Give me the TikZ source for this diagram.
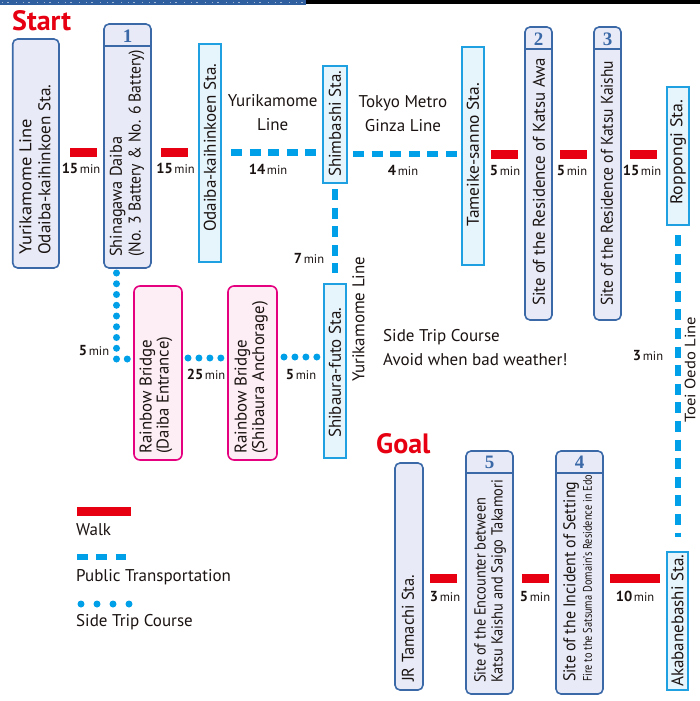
\documentclass[tikz,border=0pt]{standalone}
\usepackage{fontspec}
\setmainfont{PT Sans}
\newfontfamily\numfont{Liberation Serif}
\usepackage{graphicx}
\usetikzlibrary{calc}
\definecolor{ink}{HTML}{1A1311}
\definecolor{walkred}{HTML}{E60012}
\definecolor{ptblue}{HTML}{00A0E9}
\definecolor{navy}{HTML}{3B69A8}
\definecolor{bandblue}{HTML}{2F5F9F}
\definecolor{lav}{HTML}{E8EBF7}
\definecolor{stfill}{HTML}{E6F4FC}
\definecolor{stline}{HTML}{1FA1E1}
\definecolor{pinkline}{HTML}{E4007F}
\definecolor{pinkfill}{HTML}{FDEEF5}
\newcommand\vt[2]{\resizebox{#1pt}{\height}{#2}}
\newcommand\mkbox[6]{\node[#1, anchor=north west, minimum width={(#5)-(#3)}, minimum height={(#6)-(#4)}] (#2) at (#3,#4) {};}
\newcommand\mn[2]{{\bfseries\fontsize{14.5}{15}\selectfont #1}\,{\fontsize{12.5}{14}\selectfont #2}}
\begin{document}
\begin{tikzpicture}[x=1pt,y=-1pt,
  spot/.style={draw=navy, fill=lav, line width=1.6pt, rounded corners=5pt, inner sep=0pt, outer sep=0pt},
  station/.style={draw=stline, fill=stfill, line width=1.6pt, inner sep=0pt, outer sep=0pt},
  bridge/.style={draw=pinkline, fill=pinkfill, line width=1.6pt, rounded corners=6pt, inner sep=0pt, outer sep=0pt},
  vtext/.style={rotate=90, anchor=west, inner sep=0pt, text=ink, font=\fontsize{17}{19}\selectfont},
  htext/.style={inner sep=0pt, text=ink, font=\fontsize{17}{19}\selectfont, anchor=base},
  mins/.style={inner sep=0pt, text=ink, anchor=base},
  numtxt/.style={inner sep=0pt, text=navy, font=\numfont\bfseries\fontsize{19}{19}\selectfont},
  hdr/.style={draw=navy, line width=1.6pt},
  walk/.style={draw=walkred, line width=9pt},
  transit/.style={draw=ptblue, line width=6.7pt, dash pattern=on 11pt off 7.6pt},
  sidetrip/.style={draw=ptblue, line width=7pt, line cap=round, dash pattern=on 0pt off #1},
  sidetrip/.default=10.75pt,
  title/.style={inner sep=0pt, text=walkred, anchor=base west, font=\bfseries\fontsize{28}{29}\selectfont}
]
\useasboundingbox (0,0) rectangle (700,701);
\fill[white] (0,0) rectangle (700,701);
% top band
\fill[bandblue] (0,0) rectangle (306,5);
\fill[black] (306,0) rectangle (700,4.5);
\draw[white!55!bandblue, line width=1.6pt, dash pattern=on 1pt off 4pt on 2pt off 7pt on 1pt off 6pt] (2,2.5) -- (304,2.5);

% titles
\node[title] (start) at (12,31) {Start};
\node[title] (goal) at (376,453) {Goal};

% boxes
\mkbox{spot}{A}{12.7}{39}{59}{268}
\mkbox{spot}{B1}{104}{24}{151}{268}
\mkbox{station}{S1}{199}{44}{221}{262}
\mkbox{station, line width=2.3pt}{S2}{323}{66}{347}{183}
\mkbox{station}{S3}{462}{47}{484}{265}
\mkbox{spot}{B2}{525}{27}{552}{320}
\mkbox{spot}{B3}{594}{27}{621}{320}
\mkbox{station}{S4}{667}{87}{689}{225}
\mkbox{station}{S5}{324}{284}{346}{458}
\mkbox{bridge}{R1}{134}{286}{182}{460}
\mkbox{bridge}{R2}{228}{286}{277}{460}
\mkbox{station}{S6}{667}{552}{688}{690}
\mkbox{spot}{JR}{395}{463}{423}{690}
\mkbox{spot}{B5}{466}{451}{513}{694}
\mkbox{spot}{B4}{556}{451}{603}{694}

% header separators
\draw[hdr] ([yshift=-22pt]B1.north west) -- ([yshift=-22pt]B1.north east);
\draw[hdr] ([yshift=-22pt]B2.north west) -- ([yshift=-22pt]B2.north east);
\draw[hdr] ([yshift=-22pt]B3.north west) -- ([yshift=-22pt]B3.north east);
\draw[hdr] ([yshift=-22pt]B5.north west) -- ([yshift=-22pt]B5.north east);
\draw[hdr] ([yshift=-22pt]B4.north west) -- ([yshift=-22pt]B4.north east);
\node[numtxt] (n1) at (127.5,36.5) {1};
\node[numtxt] (n2) at (538.5,39) {2};
\node[numtxt] (n3) at (607.5,39) {3};
\node[numtxt] (n5) at (489.5,462) {5};
\node[numtxt] (n4) at (579.5,462) {4};

% box texts
\node[vtext] (tA1) at (25.5,255) {\vt{136}{Yurikamome Line}};
\node[vtext] (tA2) at (44.5,255) {\vt{170}{Odaiba-kaihinkoen Sta.}};
\node[vtext] (tB1a) at (117.5,257) {\vt{120}{Shinagawa Daiba}};
\node[vtext] (tB1b) at (136.5,257) {\vt{207}{(No. 3 Battery \& No. 6 Battery)}};
\node[vtext] (tS1) at (210,232) {\vt{168}{Odaiba-kaihinkoen Sta.}};
\node[vtext] (tS2) at (335,177) {\vt{106}{Shimbashi Sta.}};
\node[vtext] (tS3) at (473,227) {\vt{144}{Tameike-sanno Sta.}};
\node[vtext] (tB2) at (539,306) {\vt{248}{Site of the Residence of Katsu Awa}};
\node[vtext] (tB3) at (607,306) {\vt{245}{Site of the Residence of Katsu Kaishu}};
\node[vtext] (tS4) at (678,205) {\vt{105}{Roppongi Sta.}};
\node[vtext] (tS5) at (335,438) {\vt{130}{Shibaura-futo Sta.}};
\node[vtext] (tR1a) at (147.5,454) {\vt{114}{Rainbow Bridge}};
\node[vtext] (tR1b) at (164.5,454) {\vt{117}{(Daiba Entrance)}};
\node[vtext] (tR2a) at (242.5,454) {\vt{114}{Rainbow Bridge}};
\node[vtext] (tR2b) at (260,454) {\vt{153}{(Shibaura Anchorage)}};
\node[vtext] (tYL) at (358.5,382) {\vt{125}{Yurikamome Line}};
\node[vtext, font=\fontsize{15}{17}\selectfont] (tTO) at (690,423) {\vt{106}{Toei Oedo Line}};
\node[vtext] (tJR) at (408,682) {\vt{107}{JR Tamachi Sta.}};
\node[vtext, font=\fontsize{16}{18}\selectfont] (tB5a) at (480,683) {\vt{185}{Site of the Encounter between}};
\node[vtext, font=\fontsize{16}{18}\selectfont] (tB5b) at (498.5,683) {\vt{203}{Katsu Kaishu and Saigo Takamori}};
\node[vtext] (tB4a) at (571,682) {\vt{200}{Site of the Incident of Setting}};
\node[vtext, font=\fontsize{12.5}{14}\selectfont] (tB4b) at (587.5,682) {\vt{207}{Fire to the Satsuma Domain's Residence in Edo}};
\node[vtext] (tS6) at (677.5,687) {\vt{132}{Akabanebashi Sta.}};

% horizontal labels
\node[htext] (yl1) at (272.7,106) {Yurikamome};
\node[htext] (yl2) at (272.7,130) {Line};
\node[htext] (tm1) at (403,107) {Tokyo Metro};
\node[htext] (tm2) at (403,131) {Ginza Line};
\node[htext, anchor=base west] (st1) at (383,341.5) {Side Trip Course};
\node[htext, anchor=base west] (st2) at (383,365) {Avoid when bad weather!};

% connectors
\coordinate (r1) at (0,152.5);
\coordinate (r2) at (0,154);
\coordinate (r3) at (0,578.5);
\draw[walk, shorten <=11pt, shorten >=7pt] (A.east |- r1) -- (B1.west |- r1);
\draw[walk, shorten <=10pt, shorten >=11pt] (B1.east |- r1) -- (S1.west |- r1);
\draw[transit, shorten <=10pt, shorten >=6pt] (S1.east |- r1) -- (S2.west |- r1);
\draw[transit, shorten <=6pt, shorten >=5pt] (S2.east |- r2) -- (S3.west |- r2);
\draw[walk, shorten <=7pt, shorten >=7pt] (S3.east |- r2) -- (B2.west |- r2);
\draw[walk, shorten <=8pt, shorten >=7pt] (B2.east |- r2) -- (B3.west |- r2);
\draw[walk, shorten <=9pt, shorten >=10pt] (B3.east |- r2) -- (S4.west |- r2);
\draw[transit, shorten <=6pt, shorten >=11pt] (S2.south) -- (S5.north);
\draw[transit, shorten <=10pt, shorten >=15pt] (S4.south) -- (S4.south |- S6.north);
\draw[walk, shorten <=7pt, shorten >=7pt] (S6.west |- r3) -- (B4.east |- r3);
\draw[walk, shorten <=7pt, shorten >=9pt] (B4.west |- r3) -- (B5.east |- r3);
\draw[walk, shorten <=9pt, shorten >=7pt] (B5.west |- r3) -- (JR.east |- r3);
\draw[sidetrip] ([xshift=-11pt,yshift=-5pt]B1.south) |- ([xshift=-6pt,yshift=14pt]R1.west);
\draw[sidetrip=10.95pt] ([xshift=6pt,yshift=15pt]R1.east) -- ([xshift=-7pt,yshift=15pt]R2.west);
\draw[sidetrip=10.95pt] ([xshift=7pt,yshift=16pt]R2.east) -- ([xshift=-7pt,yshift=14pt]S5.west);

% times
\node[mins] (m1) at (81,173) {\mn{15}{min}};
\node[mins] (m2) at (175.5,173) {\mn{15}{min}};
\node[mins] (m3) at (268,174) {\mn{14}{min}};
\node[mins] (m4) at (403,175.5) {\mn{4}{min}};
\node[mins] (m5) at (505,175.5) {\mn{5}{min}};
\node[mins] (m6) at (572,175.5) {\mn{5}{min}};
\node[mins] (m7) at (642,175.5) {\mn{15}{min}};
\node[mins] (m8) at (309,263.5) {\mn{7}{min}};
\node[mins] (m9) at (94,355.5) {\mn{5}{min}};
\node[mins] (m10) at (206,379.5) {\mn{25}{min}};
\node[mins] (m11) at (301,379.5) {\mn{5}{min}};
\node[mins] (m12) at (648,360.5) {\mn{3}{min}};
\node[mins] (m13) at (445,601.5) {\mn{3}{min}};
\node[mins] (m14) at (535,601.5) {\mn{5}{min}};
\node[mins] (m15) at (635,601.5) {\mn{10}{min}};

% legend
\coordinate (lw1) at (77,511.5);
\coordinate (lw2) at (131,511.5);
\coordinate (lp1) at (77,557);
\coordinate (lp2) at (126,557);
\coordinate (ls1) at (81,604);
\coordinate (ls2) at (129.1,604);
\draw[walk] (lw1) -- (lw2);
\draw[transit, dash pattern=on 10.5pt off 8.75pt] (lp1) -- (lp2);
\draw[sidetrip=16pt] (ls1) -- (ls2);
\node[htext, anchor=base west] (lg1) at (76,535) {Walk};
\node[htext, anchor=base west] (lg2) at (76,581) {Public Transportation};
\node[htext, anchor=base west] (lg3) at (76,626) {Side Trip Course};
\end{tikzpicture}
\end{document}
